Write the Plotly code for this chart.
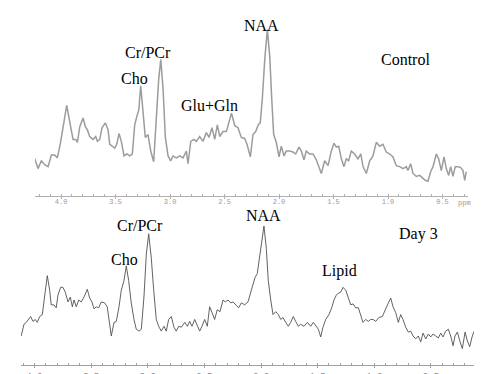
import plotly.graph_objects as go

# ---- Control spectrum (chemical shift, ppm ; intensity, a.u.) ----
control_ppm = [4.241, 4.211, 4.181, 4.150, 4.119, 4.089, 4.058, 4.034, 4.006, 3.984,
               3.948, 3.915, 3.890, 3.865, 3.850, 3.828, 3.798, 3.777, 3.759, 3.737,
               3.706, 3.682, 3.667, 3.645, 3.624, 3.594, 3.569, 3.553, 3.532, 3.507,
               3.489, 3.468, 3.447, 3.422, 3.397, 3.370, 3.346, 3.324, 3.306, 3.287,
               3.269, 3.248, 3.227, 3.202, 3.177, 3.150, 3.126, 3.104, 3.085, 3.064,
               3.043, 3.018, 2.994, 2.972, 2.942, 2.911, 2.881, 2.850, 2.835, 2.810,
               2.780, 2.759, 2.728, 2.697, 2.667, 2.642, 2.615, 2.590, 2.566, 2.544,
               2.514, 2.483, 2.461, 2.436, 2.406, 2.376, 2.346, 2.315, 2.294, 2.263,
               2.239, 2.214, 2.190, 2.172, 2.153, 2.131, 2.107, 2.085, 2.067, 2.049,
               2.025, 2.000, 1.979, 1.954, 1.933, 1.902, 1.872, 1.847, 1.817, 1.795,
               1.771, 1.750, 1.718, 1.688, 1.658, 1.627, 1.612, 1.581, 1.550, 1.520,
               1.495, 1.474, 1.452, 1.428, 1.404, 1.383, 1.361, 1.337, 1.306, 1.275,
               1.250, 1.229, 1.199, 1.168, 1.138, 1.107, 1.076, 1.046, 1.016, 0.984,
               0.954, 0.924, 0.893, 0.862, 0.832, 0.817, 0.792, 0.771, 0.740, 0.709,
               0.679, 0.658, 0.633, 0.608, 0.587, 0.557, 0.535, 0.511, 0.486, 0.465,
               0.443, 0.425, 0.404, 0.383, 0.358, 0.333, 0.312, 0.296, 0.282]
control_int = [25, 15, 23, 19, 17, 29, 29, 26, 41, 57,
               80, 60, 45, 45, 42, 58, 67, 58, 55, 48,
               45, 48, 43, 45, 57, 62, 55, 40, 38, 36,
               40, 51, 43, 28, 30, 28, 30, 60, 68, 75,
               100, 70, 47, 50, 33, 22, 70, 107, 127, 97,
               47, 28, 23, 28, 26, 28, 26, 33, 20, 43,
               45, 43, 48, 43, 52, 47, 57, 45, 60, 48,
               53, 53, 62, 72, 59, 57, 47, 46, 40, 27,
               50, 53, 60, 62, 87, 127, 158, 130, 87, 50,
               42, 27, 38, 28, 33, 33, 32, 30, 37, 33,
               24, 33, 30, 30, 24, 13, 10, 23, 18, 33,
               41, 37, 38, 25, 17, 25, 23, 33, 30, 25,
               30, 17, 10, 23, 28, 42, 38, 40, 32, 30,
               27, 18, 17, 15, 17, 13, 20, 10, 7, 8,
               5, 3, 2, 12, 17, 30, 25, 13, 27, 15,
               8, 17, 7, 17, 17, 16, 13, 3, 12]

# ---- Day 3 spectrum ----
day3_ppm = [4.116, 4.092, 4.071, 4.050, 4.033, 4.012, 3.992, 3.974, 3.953, 3.930,
            3.909, 3.886, 3.865, 3.851, 3.827, 3.807, 3.792, 3.768, 3.748, 3.727,
            3.703, 3.683, 3.665, 3.650, 3.630, 3.609, 3.586, 3.562, 3.533, 3.512,
            3.492, 3.474, 3.454, 3.432, 3.410, 3.380, 3.357, 3.335, 3.321, 3.297,
            3.277, 3.253, 3.233, 3.209, 3.189, 3.168, 3.145, 3.121, 3.101, 3.077,
            3.056, 3.033, 3.012, 2.991, 2.968, 2.947, 2.924, 2.903, 2.880, 2.856,
            2.836, 2.815, 2.792, 2.768, 2.748, 2.726, 2.703, 2.673, 2.650, 2.629,
            2.609, 2.585, 2.562, 2.541, 2.521, 2.497, 2.474, 2.453, 2.432, 2.409,
            2.386, 2.362, 2.335, 2.315, 2.291, 2.267, 2.247, 2.218, 2.197, 2.174,
            2.144, 2.115, 2.077, 2.053, 2.033, 2.011, 1.994, 1.974, 1.953, 1.936,
            1.914, 1.894, 1.870, 1.847, 1.826, 1.806, 1.782, 1.759, 1.738, 1.715,
            1.694, 1.671, 1.650, 1.620, 1.591, 1.561, 1.538, 1.517, 1.494, 1.473,
            1.453, 1.429, 1.400, 1.376, 1.356, 1.335, 1.318, 1.297, 1.276, 1.252,
            1.229, 1.208, 1.188, 1.164, 1.141, 1.120, 1.100, 1.076, 1.053, 1.032,
            1.011, 0.988, 0.959, 0.929, 0.899, 0.876, 0.855, 0.835, 0.811, 0.788,
            0.767, 0.747, 0.723, 0.700, 0.679, 0.658, 0.635, 0.612, 0.590, 0.570,
            0.546, 0.523, 0.502, 0.482, 0.458, 0.435, 0.414, 0.394, 0.370, 0.347,
            0.326, 0.305, 0.288, 0.267, 0.246, 0.223, 0.199, 0.179, 0.158, 0.135,
            0.111, 0.091, 0.070, 0.047, 0.023, 0.003, -0.019]
day3_int = [3, 15, 17, 20, 23, 18, 20, 17, 23, 25,
            47, 65, 50, 35, 35, 32, 45, 53, 53, 48,
            38, 43, 33, 40, 33, 40, 38, 43, 51, 42,
            38, 31, 33, 32, 38, 37, 33, 13, 3, 17,
            18, 33, 50, 60, 75, 60, 37, 20, 10, 8,
            10, 43, 87, 108, 83, 50, 20, 13, 8, 13,
            8, 20, 23, 12, 8, 13, 12, 17, 13, 18,
            13, 20, 13, 8, 13, 20, 13, 33, 27, 20,
            30, 28, 40, 38, 40, 37, 38, 35, 32, 37,
            35, 38, 53, 63, 67, 87, 103, 116, 93, 60,
            40, 25, 28, 25, 20, 22, 17, 13, 17, 23,
            18, 13, 15, 13, 17, 13, 17, 13, 10, 2,
            12, 20, 25, 32, 40, 45, 47, 48, 53, 50,
            42, 35, 36, 32, 32, 25, 17, 20, 18, 20,
            20, 18, 22, 23, 30, 37, 42, 33, 27, 17,
            25, 20, 12, 7, 8, 3, 0, 3, -3, 6,
            0, 5, 2, 5, 3, 1, 6, 2, 8, 10,
            3, -7, 3, 7, -2, -10, 7, -2, -8, 3,
            10, -13, 0, 8, -2, -5, -3]

tick_vals = [4.0, 3.5, 3.0, 2.5, 2.0, 1.5, 1.0, 0.5, 0.0]
tick_text = ["4.0", "3.5", "3.0", "2.5", "2.0", "1.5", "1.0", "0.5", "0.0"]

W, H = 482, 374
def px(x):
    return x / W
def py(y):
    return 1 - y / H

fig = go.Figure()
fig.add_trace(go.Scatter(x=control_ppm, y=control_int, mode="lines",
                         line=dict(color="#9c9c9c", width=1.5),
                         xaxis="x", yaxis="y", showlegend=False))
fig.add_trace(go.Scatter(x=day3_ppm, y=day3_int, mode="lines",
                         line=dict(color="#505050", width=0.9),
                         xaxis="x2", yaxis="y2", showlegend=False))

tickfont = dict(family="Liberation Mono, DejaVu Sans Mono, monospace", size=7, color="#9a9a9a")

fig.update_layout(
    width=W, height=H, margin=dict(l=0, r=0, t=0, b=0),
    paper_bgcolor="white", plot_bgcolor="white",
    xaxis=dict(domain=[px(27), px(460)], range=[4.239, 0.266], anchor="free",
               position=py(193), showline=True, linecolor="#b0b0b0", linewidth=1,
               ticks="outside", ticklen=2, tickcolor="#b0b0b0", ticklabelstandoff=-3,
               tickvals=tick_vals, ticktext=tick_text, tickfont=tickfont,
               minor=dict(dtick=0.1, tick0=0, ticks="inside", ticklen=2, tickcolor="#b0b0b0"),
               showgrid=False, zeroline=False, fixedrange=True),
    yaxis=dict(domain=[py(190), 1], range=[-10, 180], visible=False, fixedrange=True),
    xaxis2=dict(domain=[px(13), 1], range=[4.118, -0.021], anchor="free",
                position=py(367), showline=True, linecolor="#a0a0a0", linewidth=1,
                ticks="outside", ticklen=2, tickcolor="#a0a0a0",
                tickvals=tick_vals, ticktext=tick_text,
                tickfont=dict(family="Liberation Mono, DejaVu Sans Mono, monospace", size=9, color="#8a8a8a"),
                minor=dict(dtick=0.1, tick0=0, ticks="inside", ticklen=2, tickcolor="#a0a0a0"),
                showgrid=False, zeroline=False, fixedrange=True),
    yaxis2=dict(domain=[0, py(190)], range=[-34, 150], visible=False, fixedrange=True),
)

labels = [
    ("NAA", 253, 18), ("Cr/PCr", 140, 46), ("Cho", 126, 72),
    ("Glu+Gln", 201, 100), ("Control", 397, 53),
    ("NAA", 255, 213), ("Cr/PCr", 132, 223), ("Cho", 116, 258),
    ("Lipid", 331, 270), ("Day 3", 410, 232),
]
for text, x, y in labels:
    fig.add_annotation(text=text, x=px(x), y=py(y), xref="paper", yref="paper",
                       showarrow=False, xanchor="center", yanchor="middle",
                       font=dict(family="Liberation Serif, Times New Roman, serif", size=16, color="black"))

fig.add_annotation(text="ppm", x=px(456), y=py(200), xref="paper", yref="paper",
                   showarrow=False, xanchor="center", yanchor="middle", font=tickfont)

fig.write_html("out.html")
